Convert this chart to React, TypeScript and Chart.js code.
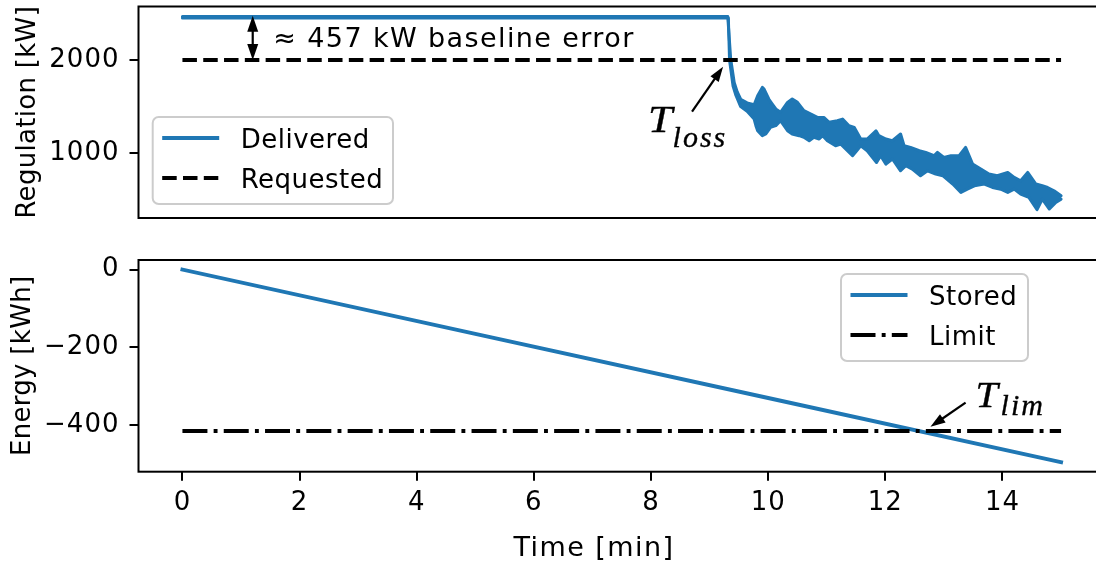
import React, { useEffect, useRef } from 'react';
import { Chart, registerables } from 'chart.js';

Chart.register(...registerables);

const BLUE = '#1f77b4';
const SANS = '"DejaVu Sans", "Noto Sans", sans-serif';
const MATH = '"Liberation Serif", "DejaVu Serif", serif';
const FONT_SIZE = 26;

// Shared time axis [min]
const timeTicks = [0, 2, 4, 6, 8, 10, 12, 14];
const regulationTicks = [1000, 2000];
const energyTicks = [0, -200, -400];

// Delivered regulation power: min/max envelope of the noisy signal
const deliveredUpperT = [
  0, 9.31, 9.36, 9.42, 9.47, 9.53, 9.64, 9.76, 9.82, 9.9,
  9.93, 10.01, 10.07, 10.13, 10.21, 10.33, 10.41, 10.5, 10.61, 10.73,
  10.84, 10.95, 11.04, 11.18, 11.27, 11.38, 11.47, 11.58, 11.69, 11.84,
  11.89, 12.01, 12.12, 12.26, 12.32, 12.43, 12.58, 12.69, 12.83, 12.89,
  13.0, 13.12, 13.26, 13.37, 13.49, 13.63, 13.77, 13.91, 14.09, 14.2,
  14.31, 14.43, 14.57, 14.68, 14.77, 14.88, 15.0,
];
const deliveredUpperKW = [
  2465, 2465, 2010, 1760, 1660, 1580, 1540, 1520, 1617, 1706,
  1688, 1582, 1528, 1475, 1440, 1546, 1582, 1546, 1457, 1421,
  1385, 1385, 1332, 1349, 1367, 1296, 1278, 1153, 1153, 1242,
  1189, 1153, 1135, 1207, 1081, 1063, 1028, 1010, 974, 1010,
  956, 974, 974, 1063, 884, 831, 778, 760, 795, 742,
  706, 795, 671, 652, 634, 599, 545,
];
const deliveredLowerT = [
  0, 9.32, 9.34, 9.4, 9.45, 9.53, 9.64, 9.76, 9.79, 9.82,
  9.9, 9.96, 10.04, 10.13, 10.21, 10.33, 10.41, 10.53, 10.61, 10.7,
  10.78, 10.87, 10.93, 11.01, 11.15, 11.24, 11.44, 11.49, 11.58, 11.69,
  11.85, 11.92, 12.01, 12.12, 12.26, 12.35, 12.46, 12.6, 12.72, 12.86,
  12.98, 13.15, 13.29, 13.4, 13.52, 13.69, 13.83, 13.97, 14.09, 14.2,
  14.31, 14.45, 14.59, 14.68, 14.8, 14.91, 15.0,
];
const deliveredLowerKW = [
  2450, 2450, 2000, 1720, 1620, 1500, 1450, 1367, 1296, 1242,
  1189, 1207, 1278, 1296, 1350, 1242, 1207, 1189, 1171, 1135,
  1171, 1153, 1189, 1135, 1081, 1099, 974, 1010, 1081, 1028,
  902, 974, 884, 939, 813, 867, 831, 760, 813, 778,
  760, 671, 581, 616, 652, 671, 634, 616, 581, 616,
  563, 527, 396, 509, 403, 474, 509,
];

// Requested regulation power
const requestedT = [0, 15];
const requestedKW = [2000, 2000];

// Stored energy and its limit
const storedT = [0, 5, 10, 15];
const storedKWh = [0, -165, -330, -495];
const limitT = [0, 15];
const limitKWh = [-415, -415];

// Baseline error between delivered and requested power
const baselineKW = 2457;
const baselineErrorKW = 457;

const toPoints = (xs: number[], ys: number[]) => xs.map((x, i) => ({ x, y: ys[i] }));

type Entry = { label: string; color: string; dash: number[] };

function drawFrame(ctx: CanvasRenderingContext2D, a: any) {
  ctx.save();
  ctx.strokeStyle = '#000';
  ctx.lineWidth = 2;
  ctx.strokeRect(a.left, a.top, a.right - a.left, a.bottom - a.top);
  ctx.restore();
}

function drawText(ctx: CanvasRenderingContext2D, text: string, x: number, y: number, align: CanvasTextAlign, size: number, spacing: number) {
  ctx.save();
  ctx.fillStyle = '#000';
  ctx.font = `${size}px ${SANS}`;
  (ctx as any).letterSpacing = `${spacing}px`;
  ctx.textAlign = align;
  ctx.textBaseline = 'alphabetic';
  ctx.fillText(text, x, y);
  ctx.restore();
}

function drawVerticalTitle(ctx: CanvasRenderingContext2D, text: string, x: number, y: number) {
  ctx.save();
  ctx.translate(x, y);
  ctx.rotate(-Math.PI / 2);
  (ctx as any).letterSpacing = '0.3px';
  ctx.font = `${FONT_SIZE}px ${SANS}`;
  ctx.fillStyle = '#000';
  ctx.textAlign = 'center';
  ctx.textBaseline = 'alphabetic';
  ctx.fillText(text, 0, 0);
  ctx.restore();
}

function drawHead(ctx: CanvasRenderingContext2D, fx: number, fy: number, tx: number, ty: number, len: number, w: number) {
  const ang = Math.atan2(ty - fy, tx - fx);
  ctx.save();
  ctx.translate(tx, ty);
  ctx.rotate(ang);
  ctx.beginPath();
  ctx.moveTo(0, 0);
  ctx.lineTo(-len, w / 2);
  ctx.lineTo(-len, -w / 2);
  ctx.closePath();
  ctx.fill();
  ctx.restore();
}

function drawArrow(ctx: CanvasRenderingContext2D, fx: number, fy: number, tx: number, ty: number, both: boolean, len: number, w: number) {
  const ang = Math.atan2(ty - fy, tx - fx);
  const sx = both ? fx + Math.cos(ang) * len * 0.8 : fx;
  const sy = both ? fy + Math.sin(ang) * len * 0.8 : fy;
  const ex = tx - Math.cos(ang) * len * 0.8;
  const ey = ty - Math.sin(ang) * len * 0.8;
  ctx.save();
  ctx.strokeStyle = '#000';
  ctx.fillStyle = '#000';
  ctx.lineWidth = 2.2;
  ctx.beginPath();
  ctx.moveTo(sx, sy);
  ctx.lineTo(ex, ey);
  ctx.stroke();
  drawHead(ctx, fx, fy, tx, ty, len, w);
  if (both) drawHead(ctx, tx, ty, fx, fy, len, w);
  ctx.restore();
}

function drawLegend(ctx: CanvasRenderingContext2D, left: number, top: number, width: number, height: number, entries: Entry[]) {
  ctx.save();
  ctx.beginPath();
  ctx.roundRect(left, top, width, height, 6);
  ctx.fillStyle = 'rgba(255,255,255,0.8)';
  ctx.fill();
  ctx.strokeStyle = '#cccccc';
  ctx.lineWidth = 2;
  ctx.stroke();
  entries.forEach((e, i) => {
    const cy = top + 21 + i * 40;
    ctx.beginPath();
    ctx.setLineDash(e.dash);
    ctx.lineDashOffset = 0;
    ctx.strokeStyle = e.color;
    ctx.lineWidth = 3.9;
    ctx.lineCap = 'butt';
    ctx.moveTo(left + 9.5, cy);
    ctx.lineTo(left + 66.5, cy);
    ctx.stroke();
    ctx.setLineDash([]);
    drawText(ctx, e.label, left + 88, cy + 9.5, 'left', FONT_SIZE, 0.5);
  });
  ctx.restore();
}

function drawMathLabel(ctx: CanvasRenderingContext2D, x: number, y: number, sub: string, dx: number, dy: number, size: number, subSize: number) {
  ctx.save();
  ctx.fillStyle = '#000';
  ctx.strokeStyle = '#000';
  ctx.lineWidth = 0.35;
  ctx.textAlign = 'left';
  ctx.textBaseline = 'alphabetic';
  (ctx as any).letterSpacing = '0px';
  ctx.font = `italic ${size}px ${MATH}`;
  ctx.save();
  ctx.translate(x, y);
  ctx.scale(1.15, 1);
  ctx.fillText('T', 0, 0);
  ctx.strokeText('T', 0, 0);
  ctx.restore();
  ctx.font = `italic ${subSize}px ${MATH}`;
  (ctx as any).letterSpacing = '2px';
  ctx.fillText(sub, x + dx, y + dy);
  ctx.strokeText(sub, x + dx, y + dy);
  ctx.restore();
}

const DASHED = [14.5, 6.3];
const DASH_DOT = [25, 6.2, 3.9, 6.2];

const yAxisCommon = {
  border: { display: false },
  grid: { drawOnChartArea: false, drawTicks: true, tickLength: 9, lineWidth: 2, color: '#000' },
  afterFit: (s: any) => {
    s.width = 138.5;
    s.paddingTop = 0;
    s.paddingBottom = 0;
  },
};

// slightly widened tick glyph spacing
const tickSpacing = {
  id: 'tickSpacing',
  beforeDraw(chart: any) {
    chart.ctx.letterSpacing = '1px';
  },
};

export default function App() {
  const topRef = useRef<HTMLCanvasElement>(null);
  const botRef = useRef<HTMLCanvasElement>(null);

  useEffect(() => {
    const topOverlay = {
      id: 'topOverlay',
      afterDraw(chart: any) {
        const { ctx, chartArea: a, scales } = chart;
        const x = scales.x, y = scales.y;
        drawFrame(ctx, a);
        drawVerticalTitle(ctx, 'Regulation [kW]', 34.5, (a.top + a.bottom) / 2);

        // baseline error marker
        const ax = x.getPixelForValue(1.2);
        drawArrow(ctx, ax, y.getPixelForValue(baselineKW) - 1.5, ax, y.getPixelForValue(requestedKW[0]), true, 16, 11);
        drawText(ctx, `\u2248 ${baselineErrorKW} kW baseline error`, x.getPixelForValue(1.55), y.getPixelForValue(2143), 'left', 27, 1.4);

        // loss of regulation marker
        drawArrow(ctx, x.getPixelForValue(8.7), y.getPixelForValue(1446), x.getPixelForValue(9.23), y.getPixelForValue(1928), false, 15, 10);
        drawMathLabel(ctx, x.getPixelForValue(7.95), y.getPixelForValue(1232), 'loss', 24.5, 15.3, 38, 30);

        drawLegend(ctx, 152.7, 117, 240.3, 87, [
          { label: 'Delivered', color: BLUE, dash: [] },
          { label: 'Requested', color: '#000', dash: DASHED },
        ]);
      },
    };

    const bottomOverlay = {
      id: 'bottomOverlay',
      afterDraw(chart: any) {
        const { ctx, chartArea: a, scales } = chart;
        const x = scales.x, y = scales.y;
        drawFrame(ctx, a);
        drawVerticalTitle(ctx, 'Energy [kWh]', 29.7, (a.top + a.bottom) / 2);
        drawText(ctx, 'Time [min]', 594, 315.5, 'center', 27, 1.45);

        drawArrow(ctx, x.getPixelForValue(13.37), y.getPixelForValue(-342), x.getPixelForValue(12.77), y.getPixelForValue(-404), false, 15, 10);
        drawMathLabel(ctx, x.getPixelForValue(13.54), y.getPixelForValue(-352), 'lim', 25, 8.3, 35, 30);

        drawLegend(ctx, 841, 34, 187, 87, [
          { label: 'Stored', color: BLUE, dash: [] },
          { label: 'Limit', color: '#000', dash: DASH_DOT },
        ]);
      },
    };

    const tickFont = { family: SANS, size: FONT_SIZE };

    const top = new Chart(topRef.current!, {
      type: 'line',
      data: {
        datasets: [
          {
            label: 'Delivered',
            data: toPoints(deliveredUpperT, deliveredUpperKW),
            borderColor: BLUE,
            borderWidth: 3,
            borderJoinStyle: 'round',
            borderCapStyle: 'round',
            pointRadius: 0,
            fill: false,
            order: 1,
          },
          {
            label: 'Delivered (min)',
            data: toPoints(deliveredLowerT, deliveredLowerKW),
            borderColor: BLUE,
            backgroundColor: BLUE,
            borderWidth: 3,
            borderJoinStyle: 'round',
            borderCapStyle: 'round',
            pointRadius: 0,
            fill: '-1',
            order: 1,
          },
          {
            label: 'Requested',
            data: toPoints(requestedT, requestedKW),
            borderColor: '#000',
            borderWidth: 3.9,
            borderDash: DASHED,
            pointRadius: 0,
            fill: false,
            order: 0,
          },
        ],
      },
      options: {
        animation: false,
        responsive: false,
        events: [],
        layout: { padding: { left: 0, top: 6.5, right: 5, bottom: 22 } },
        plugins: { legend: { display: false }, tooltip: { enabled: false } },
        scales: {
          x: { type: 'linear', min: -0.75, max: 15.75, display: false },
          y: {
            type: 'linear',
            min: 307,
            max: 2573,
            ...yAxisCommon,
            afterBuildTicks: (s: any) => { s.ticks = regulationTicks.map((v) => ({ value: v })); },
            ticks: { font: tickFont, color: '#000', padding: 10, callback: (v: any) => String(v) },
          },
        },
      } as any,
      plugins: [tickSpacing, topOverlay],
    });

    const bottom = new Chart(botRef.current!, {
      type: 'line',
      data: {
        datasets: [
          {
            label: 'Stored',
            data: toPoints(storedT, storedKWh),
            borderColor: BLUE,
            borderWidth: 3.9,
            borderCapStyle: 'square',
            pointRadius: 0,
            fill: false,
            order: 1,
          },
          {
            label: 'Limit',
            data: toPoints(limitT, limitKWh),
            borderColor: '#000',
            borderWidth: 3.9,
            borderDash: DASH_DOT,
            pointRadius: 0,
            fill: false,
            order: 0,
          },
        ],
      },
      options: {
        animation: false,
        responsive: false,
        events: [],
        layout: { padding: { left: 0, top: 20, right: 5, bottom: 0 } },
        plugins: { legend: { display: false }, tooltip: { enabled: false } },
        scales: {
          x: {
            type: 'linear',
            min: -0.75,
            max: 15.75,
            border: { display: false },
            grid: { drawOnChartArea: false, drawTicks: true, tickLength: 9, lineWidth: 2, color: '#000' },
            afterBuildTicks: (s: any) => { s.ticks = timeTicks.map((v) => ({ value: v })); },
            afterFit: (s: any) => {
              s.height = 92.3;
              s.paddingLeft = 0;
              s.paddingRight = 0;
            },
            ticks: { font: tickFont, color: '#000', padding: 7, autoSkip: false, maxRotation: 0, callback: (v: any) => String(v) },
          },
          y: {
            type: 'linear',
            min: -519.5,
            max: 24.7,
            ...yAxisCommon,
            afterBuildTicks: (s: any) => { s.ticks = energyTicks.map((v) => ({ value: v })); },
            ticks: {
              font: tickFont,
              color: '#000',
              padding: 10,
              callback: (v: any) => String(v).replace('-', '\u2212'),
            },
          },
        },
      } as any,
      plugins: [tickSpacing, bottomOverlay],
    });

    return () => {
      top.destroy();
      bottom.destroy();
    };
  }, []);

  return (
    <div style={{ position: 'fixed', left: 0, top: 0, width: 1096, height: 564, overflow: 'hidden', background: '#fff' }}>
      <canvas ref={topRef} width={1110} height={240} style={{ position: 'absolute', left: 0, top: 0 }} />
      <canvas ref={botRef} width={1110} height={324} style={{ position: 'absolute', left: 0, top: 240 }} />
    </div>
  );
}
